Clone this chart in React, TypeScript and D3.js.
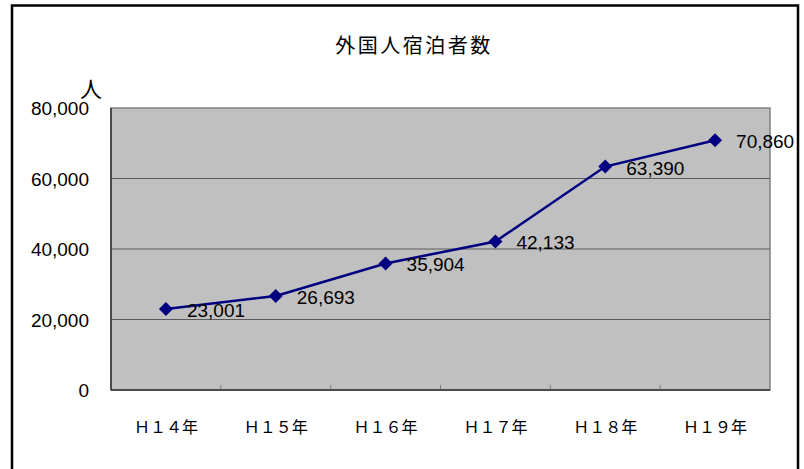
import React from "react";
import * as d3 from "d3";

// 外国人宿泊者数 (H14〜H19)
const categories = ["Ｈ１４年", "Ｈ１５年", "Ｈ１６年", "Ｈ１７年", "Ｈ１８年", "Ｈ１９年"];
const values = [23001, 26693, 35904, 42133, 63390, 70860];
const yTicks = [0, 20000, 40000, 60000, 80000];

const title = "外国人宿泊者数";
const unit = "人";

const plot = { left: 111, top: 108, right: 770, bottom: 390 };
const font = "'Liberation Sans', Arial, sans-serif";
const cjk = "'Noto Sans CJK JP', sans-serif";

export default function App() {
    const x = d3.scaleBand().domain(categories).range([plot.left, plot.right]);
    const y = d3.scaleLinear().domain([0, 80000]).range([plot.bottom, plot.top]);
    const fmt = d3.format(",");

    const data = categories.map((c, i) => ({ c, v: values[i] }));
    const cx = (c: string) => (x(c) as number) + x.bandwidth() / 2;

    const line = d3.line<{ c: string; v: number }>()
        .x((d) => cx(d.c))
        .y((d) => y(d.v));

    const diamond = d3.symbol().type(d3.symbolDiamond2).size(125);
    // bottom tick positions between categories
    const tickXs = categories.slice(1).map((c) => x(c) as number);

    return (
        <svg width={804} height={469} style={{ position: "absolute", left: 0, top: 0 }}>
            <rect x={0} y={0} width={804} height={469} fill="#fff" />
            {/* outer frame */}
            <rect x={12} y={5.5} width={786} height={480} fill="none" stroke="#000" strokeWidth={2.5} />

            <text x={414} y={53} textAnchor="middle" fontFamily={cjk} fontSize={20} letterSpacing={2.5} fill="#000">
                {title}
            </text>

            {/* plot area */}
            <rect x={plot.left} y={plot.top} width={plot.right - plot.left} height={plot.bottom - plot.top}
                fill="#c0c0c0" stroke="#808080" strokeWidth={1.5} />

            {yTicks.slice(1, -1).map((t) => (
                <line key={t} x1={plot.left} x2={plot.right} y1={y(t)} y2={y(t)} stroke="#5a5a5a" strokeWidth={1} />
            ))}

            {tickXs.map((tx) => (
                <line key={tx} x1={tx} x2={tx} y1={plot.bottom} y2={plot.bottom - 5} stroke="#808080" strokeWidth={1} />
            ))}

            {/* axes */}
            <line x1={plot.left} x2={plot.left} y1={plot.top} y2={plot.bottom} stroke="#333" strokeWidth={1.5} />
            <line x1={plot.left} x2={plot.right} y1={plot.bottom} y2={plot.bottom} stroke="#333" strokeWidth={1.5} />

            {yTicks.map((t) => (
                <text key={t} x={89} y={y(t) + 7} textAnchor="end" fontFamily={font} fontSize={19} fill="#000">
                    {fmt(t)}
                </text>
            ))}

            <text x={91} y={97} textAnchor="middle" fontFamily={cjk} fontSize={22} fill="#000">{unit}</text>

            {categories.map((c) => (
                <text key={c} x={cx(c)} y={433} textAnchor="middle" fontFamily={cjk} fontSize={16} fill="#000">
                    {c}
                </text>
            ))}

            <path d={line(data) || ""} fill="none" stroke="#000080" strokeWidth={2.5} />

            {data.map((d) => (
                <path key={d.c} d={diamond() || ""} transform={`translate(${cx(d.c)},${y(d.v)})`} fill="#000080" />
            ))}

            {data.map((d) => (
                <text key={d.c} x={cx(d.c) + 21} y={y(d.v) + 8} fontFamily={font} fontSize={19} fill="#000">
                    {fmt(d.v)}
                </text>
            ))}
        </svg>
    );
}
